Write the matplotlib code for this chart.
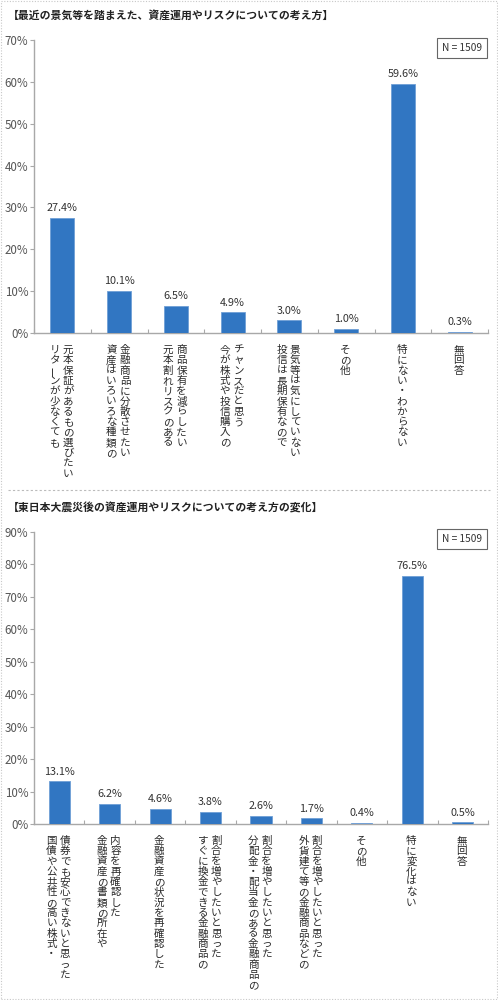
import matplotlib
matplotlib.use("Agg")
import matplotlib.pyplot as plt
from matplotlib.patches import Rectangle
from matplotlib.lines import Line2D

plt.rcParams['font.family'] = ['Noto Sans CJK JP', 'DejaVu Sans']

# ---------------- data ----------------
title1 = "【最近の景気等を踏まえた、資産運用やリスクについての考え方】"
values1 = [27.4, 10.1, 6.5, 4.9, 3.0, 1.0, 59.6, 0.3]
labels1 = [
    ("リターンが少なくても", "元本保証があるもの選びたい"),
    ("資産はいろいろな種類の", "金融商品に分散させたい"),
    ("元本割れリスクのある", "商品保有を減らしたい"),
    ("今が株式や投信購入の", "チャンスだと思う"),
    ("投信は長期保有なので", "景気等は気にしていない"),
    ("その他",),
    ("特にない・わからない",),
    ("無回答",),
]
yticks1 = [0, 10, 20, 30, 40, 50, 60, 70]

title2 = "【東日本大震災後の資産運用やリスクについての考え方の変化】"
values2 = [13.1, 6.2, 4.6, 3.8, 2.6, 1.7, 0.4, 76.5, 0.5]
labels2 = [
    ("国債や公共性の高い株式・", "債券でも安心できないと思った"),
    ("金融資産の書類の所在や", "内容を再確認した"),
    ("金融資産の状況を再確認した",),
    ("すぐに換金できる金融商品の", "割合を増やしたいと思った"),
    ("分配金・配当金のある金融商品の", "割合を増やしたいと思った"),
    ("外貨建て等の金融商品などの", "割合を増やしたいと思った"),
    ("その他",),
    ("特に変化はない",),
    ("無回答",),
]
yticks2 = [0, 10, 20, 30, 40, 50, 60, 70, 80, 90]
n_text = "N = 1509"

# ---------------- style ----------------
W, H = 498, 1000
DPI = 100
BAR = "#3176c2"
EDGE = "#6f9fd6"
AXC = "#a8a8a8"
TXT = "#333333"
PT = 72.0 / DPI  # points per pixel

fig = plt.figure(figsize=(W / DPI, H / DPI), dpi=DPI)
fig.patch.set_facecolor("white")


def px_box(l, r, top, bottom):
    return [l / W, 1 - bottom / H, (r - l) / W, (bottom - top) / H]


def draw_chart(rect, title, title_y, values, labels, yticks, nbox_y):
    ax = fig.add_axes(rect)
    n = len(values)
    x = list(range(n))
    ax.bar(x, values, width=0.42, color=BAR, edgecolor=EDGE, linewidth=0.6, zorder=3)
    ax.set_xlim(-0.5, n - 0.5)
    ax.set_ylim(0, yticks[-1])
    ax.set_yticks(yticks)
    ax.set_yticklabels([f"{v}%" for v in yticks])
    ax.tick_params(axis="y", direction="out", length=3, width=0.8, color=AXC,
                   labelsize=8.3, labelcolor="#555555", pad=1.0)
    ax.set_xticks([])
    ax.set_xticks([i + 0.5 for i in range(-1, n)], minor=True)
    ax.tick_params(axis="x", which="minor", direction="in", length=3, width=0.8, color=AXC)
    for s in ("top", "right"):
        ax.spines[s].set_visible(False)
    for s in ("left", "bottom"):
        ax.spines[s].set_color(AXC)
        ax.spines[s].set_linewidth(1.0)
    ax.set_facecolor("none")

    for xi, v in zip(x, values):
        ax.annotate(f"{v:.1f}%", (xi, v), xytext=(0, 3.5),
                    textcoords="offset points", ha="center", va="bottom",
                    fontsize=7.8, color=TXT)

    # vertical labels, one character at a time
    pitch = 10.3 * PT
    start = 17 * PT
    col_gap = 13.5 * PT
    for xi, cols in zip(x, labels):
        nc = len(cols)
        for ci, col in enumerate(cols):
            dx = (ci - (nc - 1) / 2) * col_gap - 1.0 * PT
            for k, ch in enumerate(col):
                rot = 90 if ch in "ー" else 0
                ax.annotate(ch, (xi, 0), xytext=(dx, -start - k * pitch),
                            textcoords="offset points", ha="center", va="center",
                            fontsize=7.6, color="#2a2a2a", rotation=rot,
                            annotation_clip=False)

    fig.text(8 / W, 1 - title_y / H, title, ha="left", va="center",
             fontsize=7.8, fontweight="bold", color="#222222")
    fig.text(482 / W, 1 - nbox_y / H, n_text, ha="right", va="center",
             fontsize=7.3, color=TXT,
             bbox=dict(boxstyle="square,pad=0.45", fc="white", ec="#666666", lw=0.8))
    return ax


draw_chart(px_box(34, 488, 40, 333), title1, 15, values1, labels1, yticks1, 48)
draw_chart(px_box(34, 488, 532, 824), title2, 508, values2, labels2, yticks2, 539)

# separator and outer dotted border
fig.add_artist(Line2D([8 / W, 490 / W], [1 - 490 / H, 1 - 490 / H], color="#bbbbbb",
                      lw=0.8, linestyle=(0, (2, 2)), transform=fig.transFigure))
fig.add_artist(Rectangle((1 / W, 1 / H), (W - 2) / W, (H - 2) / H, fill=False,
                         ec="#c8c8c8", lw=0.8, linestyle=(0, (1, 1.5)),
                         transform=fig.transFigure))

fig.savefig("out.png", dpi=DPI, facecolor="white")
